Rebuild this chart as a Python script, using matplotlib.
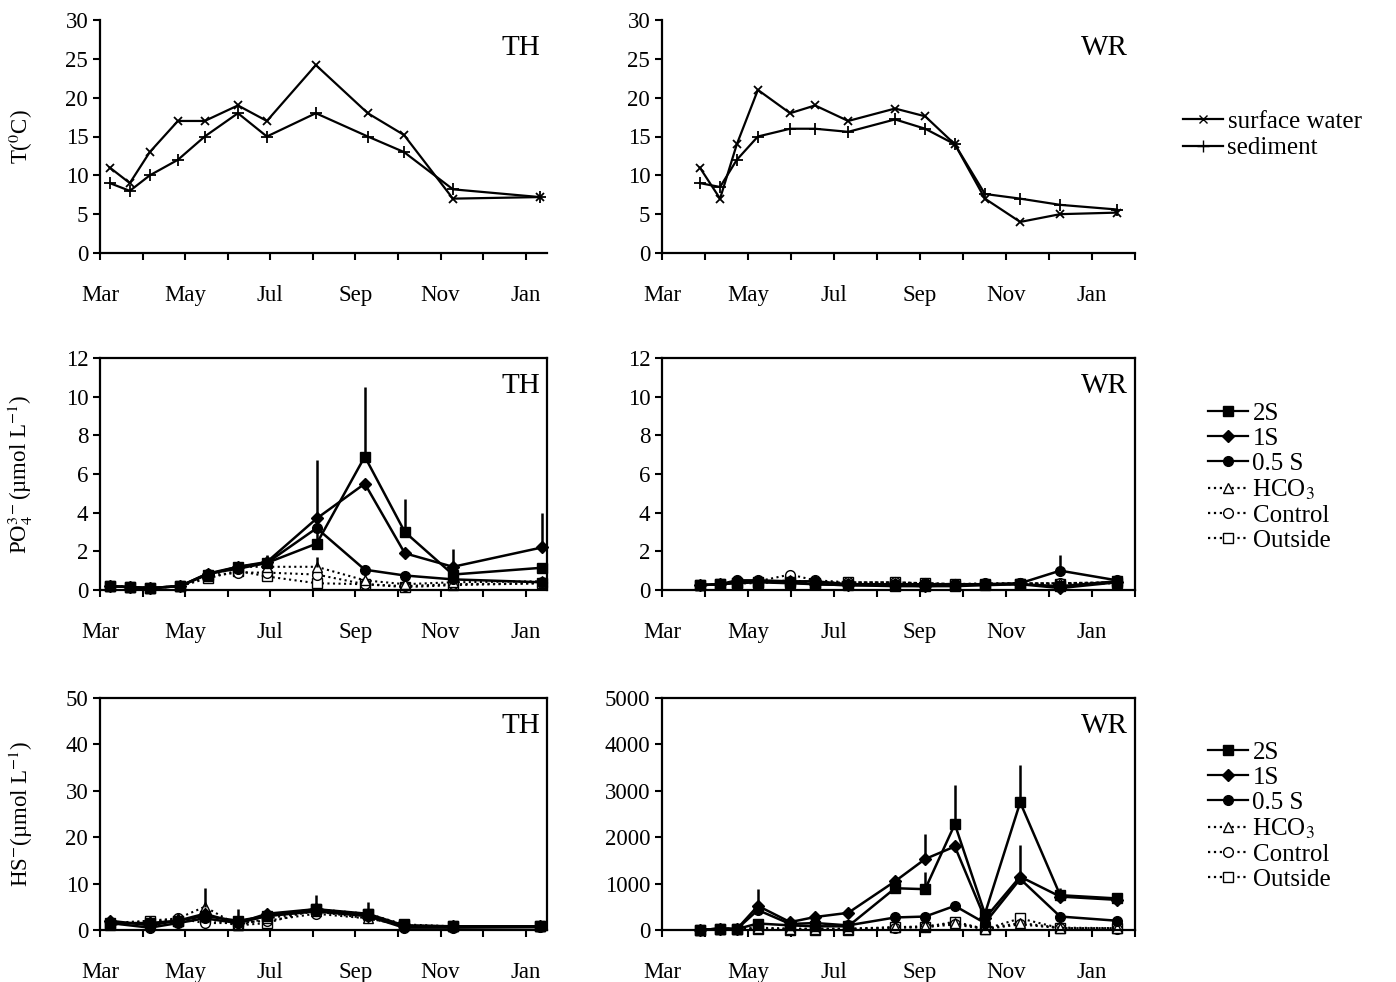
import numpy as np
import matplotlib as mpl
import matplotlib.pyplot as plt
from matplotlib.lines import Line2D

mpl.rcParams.update({
    'font.family': 'Liberation Serif',
    'mathtext.fontset': 'stix',
    'font.size': 16.5,
})

# x positions in months after 1 March
x_th = [0.23, 0.70, 1.17, 1.83, 2.46, 3.24, 3.92, 5.07, 6.29, 7.14, 8.29, 10.33]
x_wr = [0.88, 1.35, 1.74, 2.23, 2.98, 3.56, 4.33, 5.42, 6.12, 6.81, 7.51, 8.33, 9.26, 10.58]
month_labels = ['Mar', 'May', 'Jul', 'Sep', 'Nov', 'Jan']

# temperature
t_surf_th = [11, 9, 13, 17, 17, 19, 17, 24.2, 18, 15.2, 7.0, 7.2]
t_sed_th = [9, 8, 10, 12, 15, 18, 15, 18, 15, 13, 8.2, 7.2]
t_surf_wr = [11, 7, 14, 21, 18, 19, 17, 18.6, 17.6, 14, 7.0, 4.0, 5.0, 5.2]
t_sed_wr = [9, 8.5, 12, 15, 16, 16, 15.6, 17.2, 16, 14, 7.6, 7.0, 6.2, 5.6]

# phosphate TH
x_p_th = [0.23, 0.70, 1.17, 1.88, 2.53, 3.24, 3.92, 5.09, 6.22, 7.16, 8.29, 10.38]
p_th = {
    '2S': [0.2, 0.15, 0.1, 0.2, 0.8, 1.2, 1.4, 2.4, 6.9, 3.0, 0.8, 1.15],
    '1S': [0.2, 0.15, 0.1, 0.2, 0.85, 1.2, 1.45, 3.7, 5.5, 1.9, 1.2, 2.2],
    '0.5S': [0.2, 0.15, 0.1, 0.2, 0.85, 1.1, 1.4, 3.2, 1.05, 0.75, 0.55, 0.4],
    'HCO3': [0.2, 0.15, 0.1, 0.2, 0.7, 1.2, 1.2, 1.2, 0.5, 0.3, 0.4, 0.45],
    'Control': [0.2, 0.15, 0.1, 0.2, 0.7, 0.9, 0.9, 0.8, 0.3, 0.2, 0.3, 0.35],
    'Outside': [0.2, 0.15, 0.1, 0.2, 0.6, 1.0, 0.7, 0.35, 0.3, 0.15, 0.25, 0.35],
}
p_th_err = [('2S', 7, 6.7), ('2S', 8, 10.5), ('2S', 9, 4.7), ('2S', 10, 2.1), ('1S', 11, 4.0),
            ('HCO3', 7, 1.7), ('1S', 5, 1.4), ('1S', 6, 1.8)]

# phosphate WR
p_wr = {
    '2S': [0.25, 0.3, 0.35, 0.4, 0.35, 0.3, 0.25, 0.2, 0.2, 0.2, 0.25, 0.3, 0.2, 0.45],
    '1S': [0.25, 0.3, 0.4, 0.45, 0.4, 0.3, 0.25, 0.25, 0.2, 0.25, 0.3, 0.3, 0.1, 0.4],
    '0.5S': [0.25, 0.3, 0.5, 0.5, 0.45, 0.45, 0.3, 0.3, 0.3, 0.3, 0.3, 0.35, 1.0, 0.5],
    'HCO3': [0.25, 0.3, 0.4, 0.4, 0.5, 0.4, 0.35, 0.35, 0.35, 0.3, 0.3, 0.35, 0.35, 0.4],
    'Control': [0.25, 0.3, 0.45, 0.45, 0.8, 0.5, 0.4, 0.4, 0.35, 0.3, 0.35, 0.35, 0.35, 0.4],
    'Outside': [0.25, 0.3, 0.35, 0.35, 0.45, 0.35, 0.4, 0.4, 0.35, 0.3, 0.3, 0.3, 0.3, 0.35],
}
p_wr_err = [('0.5S', 12, 1.8)]

# sulfide TH
x_h_th = [0.23, 1.17, 1.83, 2.46, 3.24, 3.92, 5.07, 6.29, 7.14, 8.29, 10.33]
h_th = {
    '2S': [1.5, 1.5, 2.0, 3.0, 2.0, 3.0, 4.5, 3.5, 1.0, 0.8, 0.8],
    '1S': [2.0, 1.0, 2.0, 3.5, 1.5, 3.5, 4.5, 3.0, 0.8, 0.8, 0.8],
    '0.5S': [1.5, 0.5, 1.5, 2.5, 1.5, 3.0, 4.0, 3.0, 0.5, 0.5, 0.6],
    'HCO3': [1.5, 2.0, 2.5, 5.0, 1.0, 2.5, 4.0, 2.5, 1.0, 0.8, 0.8],
    'Control': [1.5, 1.5, 2.5, 1.5, 1.5, 2.0, 3.5, 2.5, 1.0, 0.8, 0.8],
    'Outside': [1.0, 2.0, 2.0, 2.5, 1.0, 1.5, 4.5, 3.5, 1.2, 0.8, 0.8],
}
h_th_err = [('HCO3', 3, 9.0), ('2S', 4, 4.5), ('2S', 6, 7.5), ('2S', 7, 6.0)]

# sulfide WR
h_wr = {
    '2S': [0, 30, 20, 140, 100, 80, 80, 900, 880, 2280, 350, 2750, 750, 680],
    '1S': [0, 30, 20, 520, 170, 280, 370, 1050, 1530, 1800, 250, 1150, 720, 650],
    '0.5S': [0, 30, 20, 430, 130, 150, 100, 270, 290, 520, 150, 1100, 290, 200],
    'HCO3': [0, 30, 20, 50, 30, 30, 30, 60, 80, 150, 30, 150, 50, 40],
    'Control': [0, 30, 20, 40, 20, 20, 20, 50, 60, 120, 20, 120, 40, 30],
    'Outside': [0, 30, 20, 20, 10, 10, 10, 60, 60, 180, 20, 250, 40, 40],
}
h_wr_err = [('1S', 3, 880), ('2S', 8, 1250), ('1S', 8, 2060), ('2S', 9, 3130),
            ('2S', 11, 3550), ('1S', 11, 1830), ('2S', 12, 900)]

styles = {
    '2S': dict(marker='s', ls='-', mfc='black', label='2S'),
    '1S': dict(marker='D', ls='-', mfc='black', label='1S', ms=6),
    '0.5S': dict(marker='o', ls='-', mfc='black', label='0.5 S'),
    'HCO3': dict(marker='^', ls=':', mfc='white', label='HCO$_3$'),
    'Control': dict(marker='o', ls=':', mfc='white', label='Control'),
    'Outside': dict(marker='s', ls=':', mfc='white', label='Outside'),
}
order = ['Outside', 'Control', 'HCO3', '0.5S', '1S', '2S']


def base(ax, xmax, ylim, step, name, box=True):
    ax.set_xlim(0, xmax)
    ax.set_ylim(*ylim)
    ax.set_xticks(np.arange(0, int(xmax) + 1))
    ax.set_xticklabels([month_labels[i // 2] if i % 2 == 0 else '' for i in range(int(xmax) + 1)])
    ax.set_yticks(np.arange(ylim[0], ylim[1] + step / 2, step))
    ax.tick_params(axis='x', direction='out', pad=18, width=1.5, length=5)
    ax.tick_params(axis='y', direction='out', width=1.5, length=5)
    for s in ax.spines.values():
        s.set_linewidth(1.6)
    if not box:
        ax.spines['top'].set_visible(False)
        ax.spines['right'].set_visible(False)
    ax.text(0.985, 0.88, name, transform=ax.transAxes, ha='right', va='center', fontsize=21)


def chem(ax, x, data, errs):
    for k in order:
        st = dict(styles[k])
        ax.plot(x, data[k], color='black', lw=1.8 if st['ls'] == '-' else 1.5,
                mec='black', ms=st.pop('ms', 7), clip_on=False, **st)
    for k, i, top in errs:
        ax.vlines(x[i], data[k][i], top, color='black', lw=1.8)


fig = plt.figure(figsize=(13.96, 9.82), dpi=100, facecolor='white')
W, H = 1396, 982


def add(l, t, r, b):
    return fig.add_axes([l / W, 1 - b / H, (r - l) / W, (b - t) / H])


ax1 = add(100, 20, 547, 253)
ax2 = add(662, 20, 1135, 253)
ax3 = add(100, 358, 547, 590)
ax4 = add(662, 358, 1135, 590)
ax5 = add(100, 698, 547, 930)
ax6 = add(662, 698, 1135, 930)

base(ax1, 10.5, (0, 30), 5, 'TH', box=False)
base(ax2, 11, (0, 30), 5, 'WR', box=False)
base(ax3, 10.5, (0, 12), 2, 'TH')
base(ax4, 11, (0, 12), 2, 'WR')
base(ax5, 10.5, (0, 50), 10, 'TH')
base(ax6, 11, (0, 5000), 1000, 'WR')

for ax, x, s, d in [(ax1, x_th, t_surf_th, t_sed_th), (ax2, x_wr, t_surf_wr, t_sed_wr)]:
    ax.plot(x, s, color='black', lw=1.6, marker='x', ms=6, mew=1.3)
    ax.plot(x, d, color='black', lw=1.6, marker='+', ms=8, mew=1.3)

chem(ax3, x_p_th, p_th, p_th_err)
chem(ax4, x_wr, p_wr, p_wr_err)
chem(ax5, x_h_th, h_th, h_th_err)
chem(ax6, x_wr, h_wr, h_wr_err)

ax1.set_ylabel('T($^0$C)')
ax3.set_ylabel('PO$_4^{3-}$(µmol L$^{-1}$)')
ax5.set_ylabel('HS$^{-}$(µmol L$^{-1}$)')
for ax in (ax1, ax3, ax5):
    ax.yaxis.set_label_coords(-0.145, 0.5)

h_t = [Line2D([], [], color='black', lw=1.6, marker='x', ms=6, label='surface water'),
       Line2D([], [], color='black', lw=1.6, marker='+', ms=8, label='sediment')]
fig.legend(handles=h_t, loc='center left', bbox_to_anchor=(1160 / W, 1 - 135 / H),
           frameon=False, handlelength=1.6, handletextpad=0.2, labelspacing=0.15, fontsize=18)

def chem_handles():
    hs = []
    for k in ['2S', '1S', '0.5S', 'HCO3', 'Control', 'Outside']:
        st = dict(styles[k])
        ms = st.pop('ms', 7)
        hs.append(Line2D([], [], color='black', lw=1.6, mec='black', ms=ms, **st))
    return hs

for yc in (477, 816):
    fig.legend(handles=chem_handles(), loc='center left', bbox_to_anchor=(1185 / W, 1 - yc / H),
               frameon=False, handlelength=1.6, handletextpad=0.2, labelspacing=0.1,
               fontsize=18, markerfirst=True)

plt.savefig('out.png', dpi=100)
